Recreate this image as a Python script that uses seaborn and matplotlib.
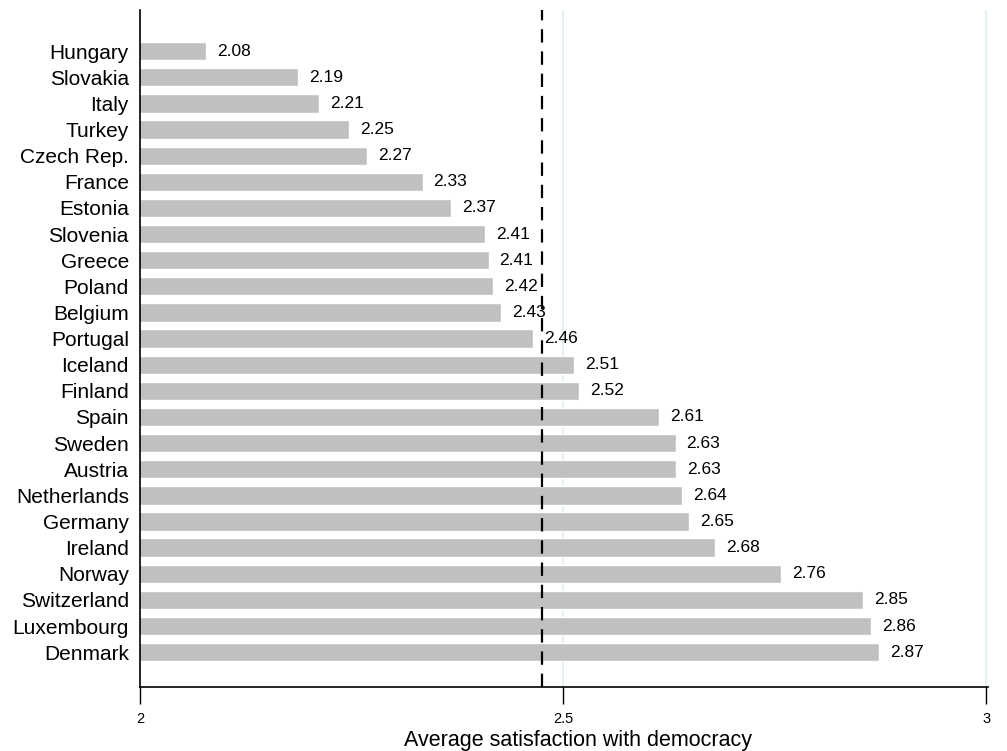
import matplotlib
matplotlib.use("Agg")
import matplotlib.pyplot as plt
import seaborn as sns
import pandas as pd

# ----------------------------------------
# Data
# ----------------------------------------

countries = [
    "Hungary", "Slovakia", "Italy", "Turkey", "Czech Rep.", "France",
    "Estonia", "Slovenia", "Greece", "Poland", "Belgium", "Portugal",
    "Iceland", "Finland", "Spain", "Sweden", "Austria", "Netherlands",
    "Germany", "Ireland", "Norway", "Switzerland", "Luxembourg", "Denmark",
]
satisfaction = [
    2.078, 2.187, 2.212, 2.247, 2.268, 2.334,
    2.368, 2.408, 2.412, 2.417, 2.427, 2.465,
    2.513, 2.519, 2.613, 2.633, 2.634, 2.641,
    2.649, 2.680, 2.758, 2.855, 2.864, 2.873,
]
overall_mean = 2.475

df = pd.DataFrame({"country": countries, "satisfaction": satisfaction})

# ----------------------------------------
# Plot
# ----------------------------------------

sns.set_style("white")
plt.rcParams["font.family"] = ["Liberation Sans", "DejaVu Sans"]

fig = plt.figure(figsize=(10.07, 7.51), dpi=100)
ax = fig.add_axes([0.139, 0.085, 0.842, 0.9015])

for x in [2.5, 3.0]:
    ax.axvline(x, color="#e6f0f2", linewidth=1.5, zorder=0)

sns.barplot(
    data=df,
    x="satisfaction",
    y="country",
    color="#c0c0c0",
    saturation=1,
    width=0.7,
    orient="h",
    ax=ax,
    zorder=2,
)

for i, v in enumerate(df["satisfaction"]):
    ax.text(v + 0.013, i, f"{v:.2f}", va="center", ha="left",
            fontsize=12.5, color="black", zorder=4)

ax.axvline(overall_mean, color="black", linestyle=(0, (6, 4)),
           linewidth=1.6, zorder=3)

ax.set_xlim(2, 3.002)
ax.set_ylim(24.34, -1.57)
ax.set_xticks([2, 2.5, 3])
ax.set_xticklabels(["2", "2.5", "3"])
ax.tick_params(axis="x", direction="out", length=12, width=1,
               labelsize=10.5, pad=6, bottom=True, labelcolor="black",
               color="black")
ax.tick_params(axis="y", length=0, labelsize=15, pad=8,
               labelcolor="black")

ax.set_xlabel("Average satisfaction with democracy", fontsize=15.5,
              color="black")
ax.xaxis.set_label_coords(0.5165, -0.064)
ax.set_ylabel("")

sns.despine(ax=ax, top=True, right=True)
for side in ["left", "bottom"]:
    ax.spines[side].set_color("black")
    ax.spines[side].set_linewidth(1.2)

plt.savefig("out.png", dpi=100)
